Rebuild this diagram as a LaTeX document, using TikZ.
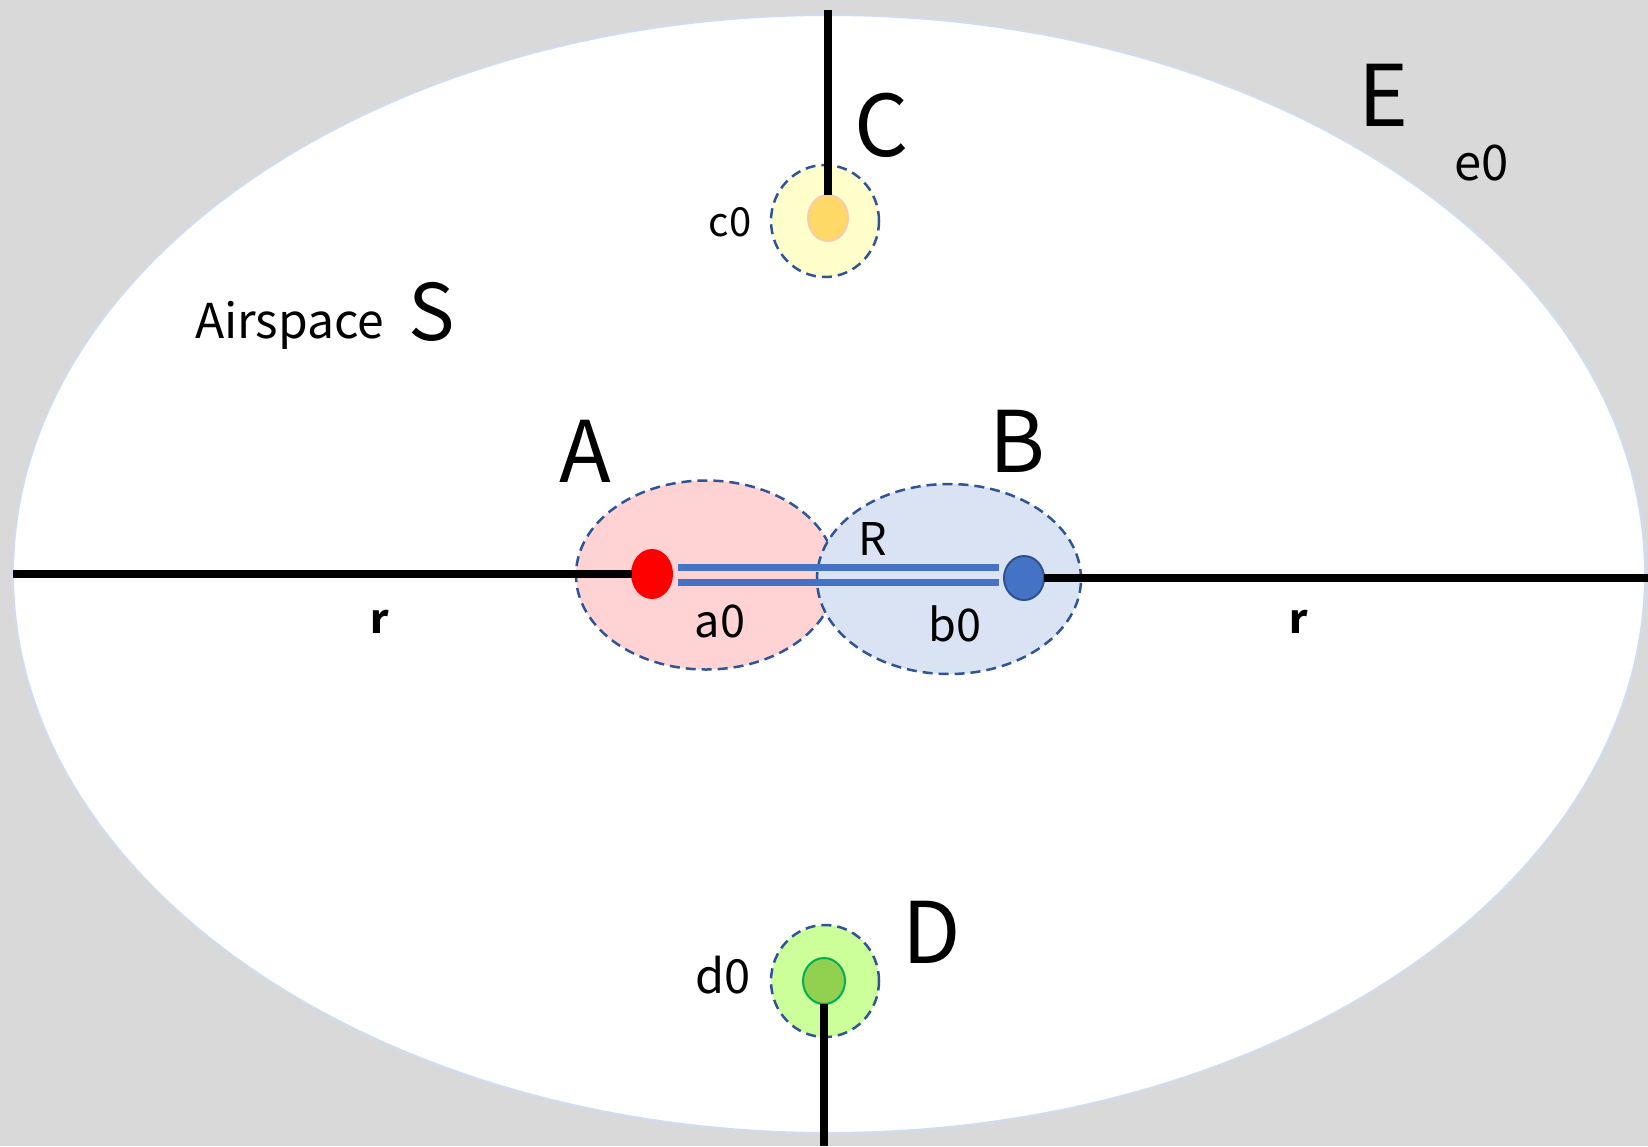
\documentclass[tikz,border=0pt]{standalone}
\usepackage{fontspec}
\setmainfont{Noto Sans CJK JP}
\usetikzlibrary{shapes.geometric}
\definecolor{bggrey}{HTML}{D9D9D9}
\definecolor{rimblue}{HTML}{D0DCF0}
\definecolor{zonepink}{HTML}{FFD3D3}
\definecolor{zoneblue}{HTML}{DAE3F3}
\definecolor{dotblue}{HTML}{4472C4}
\definecolor{dotblueline}{HTML}{2F528F}
\definecolor{dashblue}{HTML}{2F5597}
\definecolor{zoneyellow}{HTML}{FFFFCC}
\definecolor{dotyellow}{HTML}{FFD966}
\definecolor{dotyellowline}{HTML}{F8CBAD}
\definecolor{zonegreen}{HTML}{CCFF99}
\definecolor{dotgreen}{HTML}{92D050}
\definecolor{dotgreenline}{HTML}{00B050}
\tikzset{
  oval/.style={ellipse, inner sep=0pt, outer sep=0pt},
  zone/.style={oval, draw=dashblue, line width=2.5pt, dash pattern=on 10pt off 6pt},
  dotstyle/.style={oval, line width=2pt},
  rod/.style={line width=8pt, black},
  bond/.style={line width=7pt, dotblue},
  lbl/.style={inner sep=0pt, outer sep=0pt, text=black},
  big/.style={lbl, font=\fontsize{85}{90}\selectfont},
  small/.style={lbl, font=\fontsize{45}{50}\selectfont},
}
\begin{document}
\begin{tikzpicture}[x=1pt,y=-1pt]
\fill[bggrey] (0,0) rectangle (1648,1146);
\useasboundingbox (0,0) rectangle (1648,1146);
% airspace
\node[oval, fill=white, draw=rimblue, line width=2pt, minimum width=1632pt, minimum height=1118pt] (space) at (829,574) {};
% zones A and B
\node[zone, fill=zonepink, minimum width=260pt, minimum height=189pt] (zoneA) at (706,575) {};
\node[zone, fill=zoneblue, minimum width=264pt, minimum height=190pt] (zoneB) at (949,579) {};
% zones C and D
\node[zone, fill=zoneyellow, minimum width=108pt, minimum height=112pt] (zoneC) at (825,221) {};
\node[zone, fill=zonegreen, minimum width=108pt, minimum height=112pt] (zoneD) at (825,981) {};
% dots
\node[dotstyle, fill=red, draw=red, minimum width=40pt, minimum height=48pt] (dotA) at (652,574) {};
\node[dotstyle, fill=dotblue, draw=dotblueline, minimum width=40pt, minimum height=44pt] (dotB) at (1024,578) {};
\node[dotstyle, fill=dotyellow, draw=dotyellowline, minimum width=40pt, minimum height=46pt] (dotC) at (828,218) {};
\node[dotstyle, fill=dotgreen, draw=dotgreenline, minimum width=42pt, minimum height=46pt] (dotD) at (824,981) {};
% free ends
\coordinate (leftEnd) at (13,574);
\coordinate (rightEnd) at (1648,578);
\coordinate (topC) at (828,10);
\coordinate (botD) at (824,1146);
\coordinate (r1a) at (678,567);
\coordinate (r1b) at (999,567);
\coordinate (r2a) at (678,582);
\coordinate (r2b) at (999,582);
% connectors
\draw[rod] (leftEnd) -- (dotA);
\draw[rod] (dotB) -- (rightEnd);
\draw[rod] (topC) -- (dotC);
\draw[rod] (dotD) -- (botD);
\draw[bond] (r1a) -- (r1b);
\draw[bond] (r2a) -- (r2b);
% labels
\node[big] (labA) at (585,451) {A};
\node[big] (labB) at (1017,441) {B};
\node[big] (labC) at (882,125) {C};
\node[big] (labD) at (932,932) {D};
\node[big] (labE) at (1384,95) {E};
\node[lbl, font=\fontsize{78}{80}\selectfont, anchor=base west] (labS) at (408,340) {S};
\node[lbl, font=\fontsize{48}{50}\selectfont, anchor=base west] (labAir) at (195,338) {Airspace};
\node[small] (labR) at (873,539) {R};
\node[small] (laba0) at (720,621) {a0};
\node[small] (labb0) at (955,624) {b0};
\node[small, font=\fontsize{40}{44}\selectfont] (labc0) at (730,222) {c0};
\node[small, font=\fontsize{47}{50}\selectfont] (labd0) at (723,975) {d0};
\node[small, font=\fontsize{49}{52}\selectfont] (labe0) at (1482,163) {e0};
\node[lbl, font=\fontsize{40}{44}\selectfont\bfseries] (labr1) at (380,622) {r};
\node[lbl, font=\fontsize{40}{44}\selectfont\bfseries] (labr2) at (1299,622) {r};
\end{tikzpicture}
\end{document}
